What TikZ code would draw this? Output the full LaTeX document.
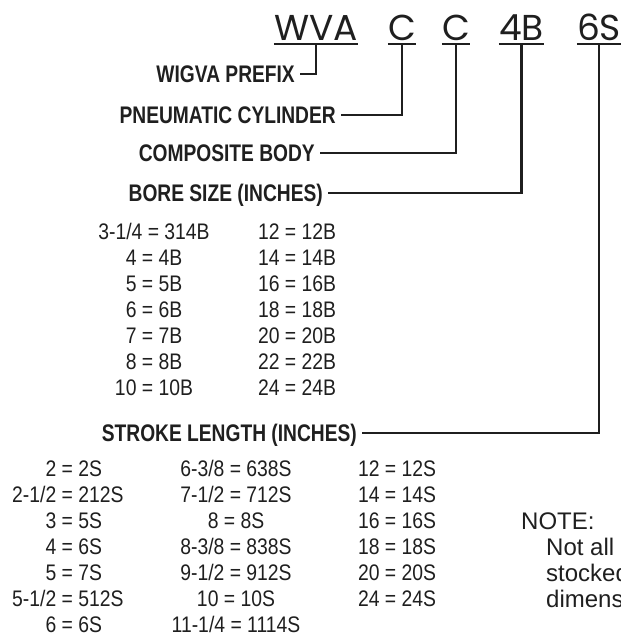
\documentclass[tikz,border=0pt]{standalone}
\usepackage{fontspec}
\newfontfamily\codefont{Poppins}
\newfontfamily\tagfont[FakeStretch=0.8]{Liberation Sans}
\newfontfamily\tabfont[FakeStretch=0.86]{Liberation Sans}
\newfontfamily\notefont{Liberation Sans}
\colorlet{ink}{black!88}

\begin{document}
\begin{tikzpicture}[x=1pt,y=-1pt,
  code/.style={anchor=base, inner sep=0pt, text depth=4pt, text=ink,
    font=\codefont\fontsize{36}{36}\selectfont},
  tag/.style={anchor=east, inner xsep=5pt, inner ysep=0pt, text height=16.5pt,
    text depth=0pt, text=ink, font=\tagfont\bfseries\fontsize{24}{24}\selectfont},
  tab/.style={anchor=north, inner sep=0pt, text=ink,
    font=\tabfont\fontsize{22.5}{26}\selectfont},
  note/.style={anchor=base west, inner sep=0pt, text=ink,
    font=\notefont\fontsize{24}{26}\selectfont},
  rule/.style={draw=ink, line width=2.3}]
  \useasboundingbox (0,0) rectangle (621,640);

  % order code
  \node[code] (wva) at (316,40) {WVA};
  \node[code] (cyl) at (402,40) {C};
  \node[code] (body) at (456,40) {C};
  \node[code] (bore) at (521.5,40) {4B};
  \node[code] (stroke) at (599,40) {6S};
  \foreach \c in {wva,cyl,body,bore,stroke}
    \draw[rule] (\c.south west) -- (\c.south east);

  % what each part means
  \node[tag] (prefix) at (300,74) {WIGVA PREFIX};
  \node[tag] (pneu) at (341,115) {PNEUMATIC CYLINDER};
  \node[tag] (comp) at (320,153) {COMPOSITE BODY};
  \node[tag] (boresize) at (328,193) {BORE SIZE (INCHES)};
  \node[tag] (strokelen) at (362,433) {STROKE LENGTH (INCHES)};
  \draw[rule] (prefix.east) -| (wva.south);
  \draw[rule] (pneu.east) -| (cyl.south);
  \draw[rule] (comp.east) -| (body.south);
  \draw[rule] (boresize.east) -| (bore.south);
  \draw[rule] (strokelen.east) -| (stroke.south);

  % bore table
  \node[tab] (borea) at (154,221) {\begin{tabular}{@{}c@{}}
    3-1/4 = 314B\\ 4 = 4B\\ 5 = 5B\\ 6 = 6B\\ 7 = 7B\\ 8 = 8B\\ 10 = 10B
  \end{tabular}};
  \node[tab] (boreb) at (297,221) {\begin{tabular}{@{}c@{}}
    12 = 12B\\ 14 = 14B\\ 16 = 16B\\ 18 = 18B\\ 20 = 20B\\ 22 = 22B\\ 24 = 24B
  \end{tabular}};

  % stroke table
  \node[tab, anchor=north west] (strokea) at (12,458) {\begin{tabular}{@{}r@{\ =\ }l@{}}
    2 & 2S\\ 2-1/2 & 212S\\ 3 & 5S\\ 4 & 6S\\ 5 & 7S\\ 5-1/2 & 512S\\ 6 & 6S
  \end{tabular}};
  \node[tab] (strokeb) at (236,458) {\begin{tabular}{@{}c@{}}
    6-3/8 = 638S\\ 7-1/2 = 712S\\ 8 = 8S\\ 8-3/8 = 838S\\ 9-1/2 = 912S\\
    10 = 10S\\ 11-1/4 = 1114S
  \end{tabular}};
  \node[tab] (strokec) at (397,458) {\begin{tabular}{@{}c@{}}
    12 = 12S\\ 14 = 14S\\ 16 = 16S\\ 18 = 18S\\ 20 = 20S\\ 24 = 24S
  \end{tabular}};

  % note, runs off the page
  \node[note] (notehead) at (521,529) {NOTE:};
  \node[note] (note1) at (546,555) {Not all};
  \node[note] (note2) at (546,581) {stocked};
  \node[note] (note3) at (546,607) {dimensions};
\end{tikzpicture}
\end{document}
